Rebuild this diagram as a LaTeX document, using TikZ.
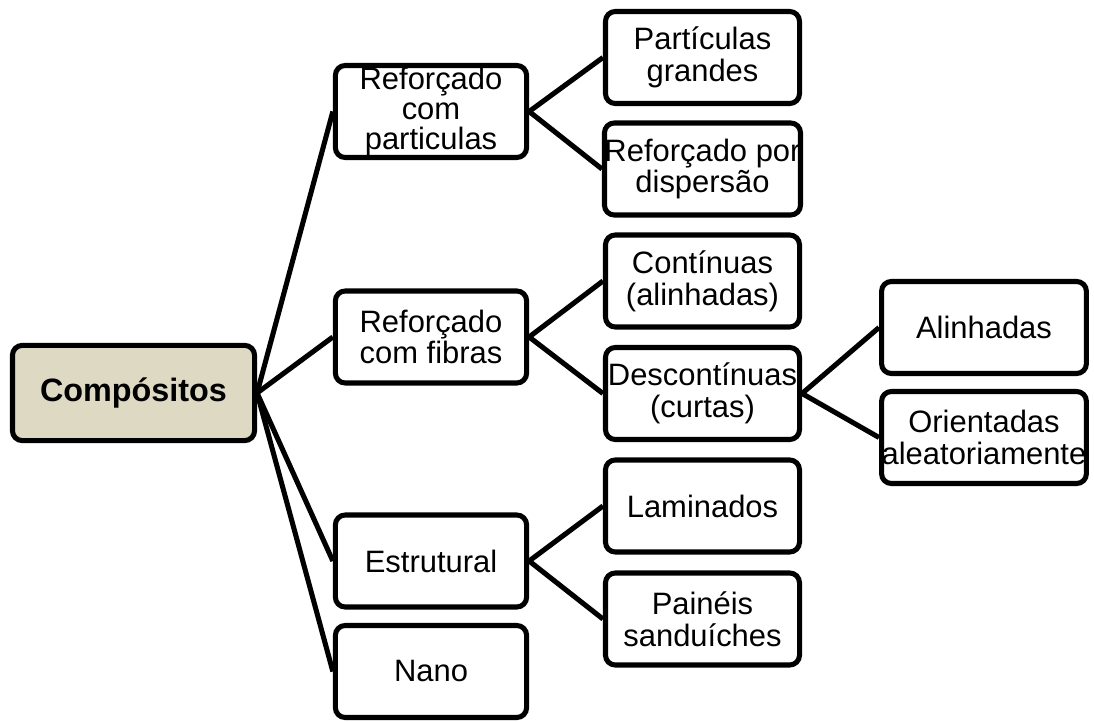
\documentclass[tikz,border=0pt]{standalone}
\usepackage{fontspec}
\setmainfont{Liberation Sans}
\definecolor{rootfill}{HTML}{DDD9C3}

\begin{document}
\begin{tikzpicture}[x=0.025cm,y=-0.025cm]
\tikzstyle{every node}=[draw, line width=3.6pt, rounded corners=7pt, align=center, inner sep=0pt, font=\fontsize{22}{22.5}\selectfont]
\tikzstyle{rootbox}=[fill=rootfill, minimum width=6.05cm, minimum height=2.38cm, font=\fontsize{23}{26}\selectfont\bfseries]
\tikzstyle{lone}=[minimum width=4.78cm, minimum height=2.3cm]
\tikzstyle{ltwo}=[minimum width=4.85cm, minimum height=2.3cm]
\tikzstyle{lthree}=[minimum width=5.12cm, minimum height=2.3cm]
\tikzstyle{link}=[line width=3.6pt]
\useasboundingbox (0,0) rectangle (1094,722);
\draw (133.5,393) node (comp) [rootbox] {Compósitos};
\draw (431,111.5) node (partic) [lone, font=\fontsize{22}{21.3}\selectfont] {Reforçado\\com\\particulas};
\draw (431,337) node (fibras) [lone] {Reforçado\\com fibras};
\draw (431,561) node (estrut) [lone] {Estrutural};
\draw (431,671.5) node (nano) [lone] {Nano};
\draw (702.5,57.5) node (grandes) [ltwo] {Partículas\\grandes};
\draw (702.5,169) node (disp) [ltwo] {Reforçado por\\dispersão};
\draw (702.5,281) node (cont) [ltwo] {Contínuas\\(alinhadas)};
\draw (702.5,393.5) node (desc) [ltwo] {Descontínuas\\(curtas)};
\draw (702.5,506) node (lamin) [ltwo] {Laminados};
\draw (702.5,619) node (painel) [ltwo] {Painéis\\sanduíches};
\draw (984,327.5) node (alin) [lthree] {Alinhadas};
\draw (984,437.5) node (orient) [lthree] {Orientadas\\aleatoriamente};
\draw[link] (comp.east) -- (partic.west);
\draw[link] (comp.east) -- (fibras.west);
\draw[link] (comp.east) -- (estrut.west);
\draw[link] (comp.east) -- (nano.west);
\draw[link] (partic.east) -- (grandes.west);
\draw[link] (partic.east) -- (disp.west);
\draw[link] (fibras.east) -- (cont.west);
\draw[link] (fibras.east) -- (desc.west);
\draw[link] (estrut.east) -- (lamin.west);
\draw[link] (estrut.east) -- (painel.west);
\draw[link] (desc.east) -- (alin.west);
\draw[link] (desc.east) -- (orient.west);
\end{tikzpicture}
\end{document}
